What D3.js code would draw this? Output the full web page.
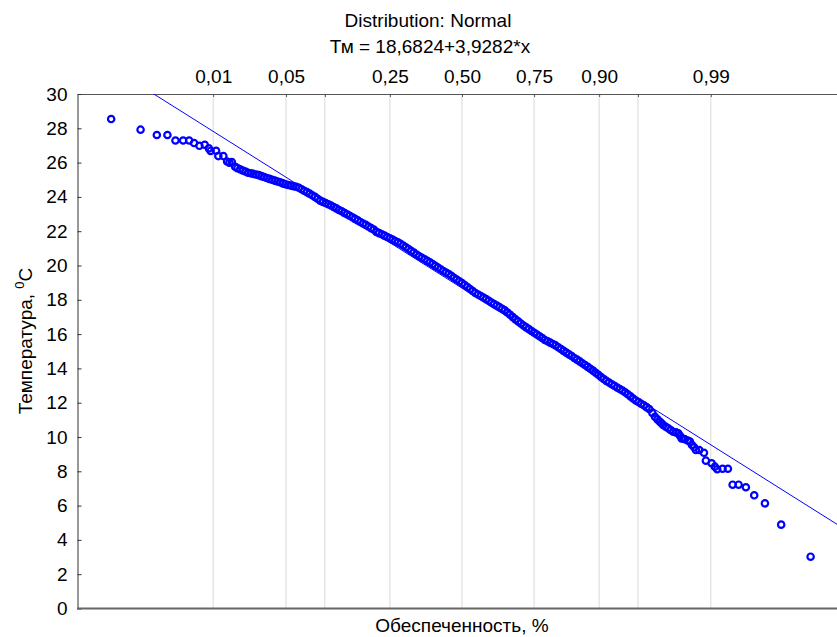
<!DOCTYPE html>
<html>
<head>
<meta charset="utf-8">
<script src="https://cdn.jsdelivr.net/npm/d3@7"></script>
<style>
  body { margin: 0; background: #fff; }
  text { font-family: "Liberation Sans", Arial, sans-serif; fill: #000; }
</style>
</head>
<body>
<div id="chart"></div>
<script>
// probability ticks on the top axis (expected normal value -> label)
const probZ = [-2.326, -1.645, -1.282, -0.674, 0, 0.674, 1.282, 1.645, 2.326];
const probLabels = ["0,01", "0,05", "", "0,25", "0,50", "0,75", "0,90", "", "0,99"];
const tempTicks = [0, 2, 4, 6, 8, 10, 12, 14, 16, 18, 20, 22, 24, 26, 28, 30];

// fitted line Tм = a + b*x (drawn against the expected normal value)
const fitA = 18.6824;
const fitB = -3.9282;

// observed points: [expected normal value, temperature]
const observed = [
  [-3.280, 28.54], [-3.005, 27.92], [-2.853, 27.61], [-2.754, 27.61], [-2.679, 27.29],
  [-2.607, 27.29], [-2.551, 27.29], [-2.505, 27.14], [-2.455, 26.98], [-2.405, 27.04],
  [-2.367, 26.83], [-2.350, 26.68], [-2.299, 26.69], [-2.278, 26.38], [-2.231, 26.38],
  [-2.196, 26.06], [-2.175, 26.00], [-2.152, 26.03], [-2.121, 25.76], [-2.100, 25.68],
  [-2.075, 25.61], [-2.050, 25.54], [-2.025, 25.48],
  [-2.000, 25.41], [-1.975, 25.38], [-1.950, 25.34], [-1.925, 25.31], [-1.900, 25.27],
  [-1.875, 25.21], [-1.850, 25.16], [-1.825, 25.10], [-1.800, 25.05], [-1.775, 25.00],
  [-1.750, 24.95], [-1.725, 24.90], [-1.700, 24.85], [-1.675, 24.79], [-1.650, 24.74],
  [-1.625, 24.69], [-1.600, 24.66], [-1.575, 24.62], [-1.550, 24.59], [-1.525, 24.53],
  [-1.500, 24.45], [-1.475, 24.36], [-1.450, 24.28], [-1.425, 24.19], [-1.400, 24.10],
  [-1.375, 24.00], [-1.350, 23.89], [-1.325, 23.78], [-1.300, 23.71], [-1.275, 23.64],
  [-1.250, 23.57], [-1.225, 23.50], [-1.200, 23.41], [-1.175, 23.33], [-1.150, 23.24],
  [-1.125, 23.16], [-1.100, 23.07], [-1.075, 22.99], [-1.050, 22.90], [-1.025, 22.81],
  [-1.000, 22.72], [-0.975, 22.63], [-0.950, 22.54], [-0.925, 22.45], [-0.900, 22.37],
  [-0.875, 22.27], [-0.850, 22.18], [-0.825, 22.10], [-0.800, 21.96], [-0.775, 21.89],
  [-0.750, 21.82], [-0.725, 21.74], [-0.700, 21.66], [-0.675, 21.59], [-0.650, 21.51],
  [-0.625, 21.43], [-0.600, 21.35], [-0.575, 21.27], [-0.550, 21.17], [-0.525, 21.06],
  [-0.500, 20.96], [-0.475, 20.85], [-0.450, 20.75], [-0.425, 20.64], [-0.400, 20.54],
  [-0.375, 20.45], [-0.350, 20.36], [-0.325, 20.27], [-0.300, 20.18], [-0.275, 20.08],
  [-0.250, 19.98], [-0.225, 19.88], [-0.200, 19.78], [-0.175, 19.68], [-0.150, 19.59],
  [-0.125, 19.50], [-0.100, 19.40], [-0.075, 19.29], [-0.050, 19.18], [-0.025, 19.08],
  [0.000, 18.97], [0.025, 18.86], [0.050, 18.75], [0.075, 18.63], [0.100, 18.51],
  [0.125, 18.40], [0.150, 18.31], [0.175, 18.22], [0.200, 18.13], [0.225, 18.04],
  [0.250, 17.94], [0.275, 17.84], [0.300, 17.75], [0.325, 17.66], [0.350, 17.57],
  [0.375, 17.48], [0.400, 17.39], [0.425, 17.26], [0.450, 17.13], [0.475, 16.99],
  [0.500, 16.86], [0.525, 16.74], [0.550, 16.62], [0.575, 16.50], [0.600, 16.39],
  [0.625, 16.29], [0.650, 16.18], [0.675, 16.08], [0.700, 15.98], [0.725, 15.87],
  [0.750, 15.77], [0.775, 15.66], [0.800, 15.58], [0.825, 15.50], [0.850, 15.42],
  [0.875, 15.34], [0.900, 15.23], [0.925, 15.13], [0.950, 15.02], [0.975, 14.92],
  [1.000, 14.82], [1.025, 14.72], [1.050, 14.61], [1.075, 14.51], [1.100, 14.41],
  [1.125, 14.30], [1.150, 14.20], [1.175, 14.09], [1.200, 13.98], [1.225, 13.87],
  [1.250, 13.75], [1.275, 13.63], [1.300, 13.50], [1.325, 13.38], [1.350, 13.27],
  [1.375, 13.18], [1.400, 13.08], [1.425, 12.99], [1.450, 12.89], [1.475, 12.80],
  [1.500, 12.71], [1.525, 12.61], [1.550, 12.49], [1.575, 12.37], [1.600, 12.24],
  [1.625, 12.13], [1.650, 12.04], [1.675, 11.94], [1.700, 11.85], [1.725, 11.74],
  [1.750, 11.63], [1.780, 11.40], [1.804, 11.18], [1.827, 11.03], [1.850, 10.89],
  [1.865, 10.80], [1.881, 10.70], [1.905, 10.60], [1.928, 10.51], [1.950, 10.41],
  [1.975, 10.31], [2.000, 10.27], [2.022, 10.22], [2.038, 10.07], [2.053, 9.92],
  [2.070, 9.90], [2.084, 9.87], [2.110, 9.80], [2.131, 9.73], [2.150, 9.53],
  [2.170, 9.40], [2.187, 9.24], [2.218, 9.24], [2.262, 9.08], [2.280, 8.62],
  [2.334, 8.47], [2.364, 8.27], [2.386, 8.12], [2.436, 8.15], [2.486, 8.15],
  [2.530, 7.22], [2.586, 7.22], [2.654, 7.07], [2.732, 6.60], [2.832, 6.13],
  [2.984, 4.89], [3.259, 3.02]
];

const main = function() {
  const width = 837, height = 637;
  const left = 78, right = 846, top = 94, bottom = 608.5;

  const svg = d3.select("#chart")
    .append("svg")
    .attr("width", width)
    .attr("height", height);

  const x = d3.scaleLinear().domain([-3.59, 3.59]).range([left, right]);
  const y = d3.scaleLinear().domain([0, 30]).range([bottom, top]);

  svg.append("clipPath").attr("id", "plot")
    .append("rect")
    .attr("x", left).attr("y", top)
    .attr("width", right - left).attr("height", bottom - top);

  // vertical grid at probability ticks
  svg.append("g")
    .selectAll("line")
    .data(probZ)
    .enter()
    .append("line")
    .attr("x1", d => x(d)).attr("x2", d => x(d))
    .attr("y1", top).attr("y2", bottom)
    .style("stroke", "#d9d9d9")
    .style("stroke-width", 1);

  // top axis with probabilities
  const topAxis = d3.axisTop(x)
    .tickValues(probZ)
    .tickFormat((d, i) => probLabels[i])
    .tickSizeInner(-3)
    .tickSizeOuter(0)
    .tickPadding(11);
  const gTop = svg.append("g")
    .attr("transform", "translate(0," + top + ")")
    .call(topAxis);
  gTop.select(".domain").attr("d", "M" + left + ",0.5H" + width).style("stroke", "#555");
  gTop.selectAll(".tick line").style("stroke", "#555");
  gTop.selectAll("text").style("font-size", "19px").attr("font-family", null);

  // left axis
  const leftAxis = d3.axisLeft(y)
    .tickValues(tempTicks)
    .tickSizeInner(-4)
    .tickSizeOuter(0)
    .tickPadding(10);
  const gLeft = svg.append("g")
    .attr("transform", "translate(" + (left - 0.5) + ",0)")
    .call(leftAxis);
  gLeft.select(".domain").style("stroke", "#333");
  gLeft.selectAll(".tick line").style("stroke", "#333");
  gLeft.selectAll("text").style("font-size", "19px").attr("font-family", null);

  // bottom frame line
  svg.append("line")
    .attr("x1", left - 1).attr("x2", width)
    .attr("y1", bottom).attr("y2", bottom)
    .style("stroke", "#666")
    .style("stroke-width", 2);

  // fitted line
  const fit = d3.line()
    .x(d => x(d))
    .y(d => y(fitA + fitB * d));
  svg.append("path")
    .datum(x.domain())
    .attr("clip-path", "url(#plot)")
    .attr("d", fit)
    .style("fill", "none")
    .style("stroke", "#0000ff")
    .style("stroke-width", 1);

  // observed points
  svg.append("g")
    .attr("clip-path", "url(#plot)")
    .selectAll("circle")
    .data(observed)
    .enter()
    .append("circle")
    .attr("cx", d => x(d[0]))
    .attr("cy", d => y(d[1]))
    .attr("r", 3.2)
    .style("fill", "none")
    .style("stroke", "#0000ff")
    .style("stroke-width", 2.2);

  // titles
  svg.append("text")
    .attr("x", 428).attr("y", 27)
    .attr("text-anchor", "middle")
    .style("font-size", "19px")
    .text("Distribution: Normal");
  svg.append("text")
    .attr("x", 430).attr("y", 53)
    .attr("text-anchor", "middle")
    .style("font-size", "19px")
    .text("Тм = 18,6824+3,9282*x");

  svg.append("text")
    .attr("x", 462).attr("y", 632)
    .attr("text-anchor", "middle")
    .style("font-size", "19px")
    .text("Обеспеченность, %");

  const yLabel = svg.append("text")
    .attr("transform", "translate(32,341) rotate(-90)")
    .attr("text-anchor", "middle")
    .style("font-size", "19px");
  yLabel.append("tspan").text("Температура, ");
  yLabel.append("tspan").attr("dy", -8).style("font-size", "13px").text("0");
  yLabel.append("tspan").attr("dy", 8).text("C");
};

window.onload = main;
</script>
</body>
</html>
